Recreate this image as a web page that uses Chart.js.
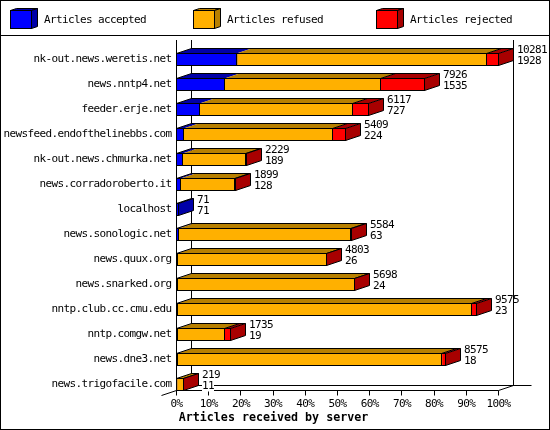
<!DOCTYPE html>
<html>
<head>
<meta charset="utf-8">
<style>
  html, body { margin: 0; padding: 0; background: #fff; }
  canvas { display: block; }
</style>
<script src="https://cdn.jsdelivr.net/npm/chart.js@4"></script>
</head>
<body>
<canvas id="chart" width="550" height="430"></canvas>
<script>
const servers = ["nk-out.news.weretis.net", "news.nntp4.net", "feeder.erje.net", "newsfeed.endofthelinebbs.com",
  "nk-out.news.chmurka.net", "news.corradoroberto.it", "localhost", "news.sonologic.net", "news.quux.org",
  "news.snarked.org", "nntp.club.cc.cmu.edu", "nntp.comgw.net", "news.dne3.net", "news.trigofacile.com"];
const accepted = [1928, 1535, 727, 224, 189, 128, 71, 63, 26, 24, 23, 19, 18, 11];
const refused = [7970, 4973, 4898, 4757, 2030, 1731, 0, 5501, 4762, 5659, 9382, 1506, 8457, 200];
const rejected = [383, 1418, 492, 428, 10, 40, 0, 20, 15, 15, 170, 210, 100, 8];
const totals = [10281, 7926, 6117, 5409, 2229, 1899, 71, 5584, 4803, 5698, 9575, 1735, 8575, 219];
const maxTotal = 10281;
const tickPercents = [0, 10, 20, 30, 40, 50, 60, 70, 80, 90, 100];
const axisTitle = "Articles received by server";

const FRONT = ["#0000ff", "#ffb000", "#ff0000"];
const DARK = ["#0000a8", "#b88000", "#a80000"];
const DX = 15, DY = -5;
const AXIS_Y = 390.5;
const MONO = '"DejaVu Sans Mono", monospace';
const TEXT_SIZE = 11;
const TEXT_SPACING = "-0.62px";

const snap = v => Math.floor(v) + 0.5;

function line(ctx, x1, y1, x2, y2) {
  ctx.beginPath();
  ctx.moveTo(x1, y1);
  ctx.lineTo(x2, y2);
  ctx.stroke();
}

function poly(ctx, pts, fill, stroke) {
  ctx.beginPath();
  pts.forEach((p, i) => i ? ctx.lineTo(p[0], p[1]) : ctx.moveTo(p[0], p[1]));
  ctx.closePath();
  if (fill) { ctx.fillStyle = fill; ctx.fill(); }
  if (stroke) { ctx.strokeStyle = "#000"; ctx.stroke(); }
}

// frame, legend and the back wall, under the bars
const backdrop = {
  id: "backdrop",
  beforeDraw(chart) {
    chart.ctx.letterSpacing = TEXT_SPACING;
  },
  beforeDatasetsDraw(chart) {
    const ctx = chart.ctx, x = chart.scales.x;
    const left = snap(x.left), right = snap(x.right);
    ctx.save();
    ctx.lineWidth = 1;
    ctx.strokeStyle = "#000";
    ctx.strokeRect(0.5, 0.5, 549, 429);
    line(ctx, 0, 35.5, 550, 35.5);

    // legend
    const legendX = [10.5, 193.5, 376.5];
    const textX = [44, 227, 410];
    ctx.font = TEXT_SIZE + "px " + MONO;
    ctx.textBaseline = "middle";
    chart.data.datasets.forEach((ds, i) => {
      const x0 = legendX[i], x1 = x0 + 21;
      poly(ctx, [[x0, 10.5], [x0 + 6, 8.5], [x1 + 6, 8.5], [x1, 10.5]], DARK[i], true);
      poly(ctx, [[x1, 10.5], [x1 + 6, 8.5], [x1 + 6, 26.5], [x1, 28.5]], DARK[i], true);
      ctx.fillStyle = FRONT[i];
      ctx.fillRect(x0, 10.5, 21, 18);
      ctx.strokeRect(x0, 10.5, 21, 18);
      ctx.fillStyle = "#000";
      ctx.fillText(ds.label, textX[i], 20);
    });

    // axes and wall
    ctx.strokeStyle = "#000";
    line(ctx, left, 40, left, AXIS_Y);
    line(ctx, left + DX, 40, left + DX, AXIS_Y + DY);
    line(ctx, right + DX, 40, right + DX, AXIS_Y + DY);
    line(ctx, left, AXIS_Y, right, AXIS_Y);
    line(ctx, left + DX, AXIS_Y + DY, right + DX + 18, AXIS_Y + DY);
    line(ctx, right, AXIS_Y, right + DX, AXIS_Y + DY);
    line(ctx, left, AXIS_Y, left - DX, AXIS_Y - DY);
    x.ticks.forEach((t, i) => {
      const px = snap(x.getPixelForTick(i));
      line(ctx, px, AXIS_Y, px, AXIS_Y + 5);
    });

    ctx.letterSpacing = "0px";
    ctx.font = "bold 11.67px " + MONO;
    ctx.textAlign = "center";
    ctx.fillStyle = "#000";
    ctx.fillText(axisTitle, 273.5, 417.5);
    ctx.restore();
  },
  // 3d faces and outlines, on top of the fronts Chart.js fills
  afterDatasetsDraw(chart) {
    const ctx = chart.ctx;
    ctx.save();
    ctx.lineWidth = 1;
    ctx.strokeStyle = "#000";
    servers.forEach((name, row) => {
      const bars = chart.data.datasets.map((ds, i) => chart.getDatasetMeta(i).data[row]);
      const top = snap(bars[0].y - bars[0].height / 2);
      const bottom = top + 12;
      const start = snap(bars[0].base);
      let end = start;
      let lastSeries = 0;
      bars.forEach((bar, i) => {
        if (chart.data.datasets[i].data[row] <= 0) return;
        const x0 = end, x1 = snap(bar.x);
        poly(ctx, [[x0, top], [x0 + DX, top + DY], [x1 + DX, top + DY], [x1, top]], DARK[i], false);
        if (i === 2) line(ctx, x0, top, x0 + DX, top + DY);
        if (x1 > x0) line(ctx, x1, top, x1, bottom);
        end = x1;
        lastSeries = i;
      });
      line(ctx, start, top, start + DX, top + DY);
      line(ctx, start + DX, top + DY, end + DX, top + DY);
      poly(ctx, [[end, top], [end + DX, top + DY], [end + DX, bottom + DY], [end, bottom]], DARK[lastSeries], true);
      ctx.strokeRect(start, top, end - start, 12);

      // value pair next to the bar end
      const labelX = end + DX + 3.5;
      const mid = (top + bottom) / 2;
      ctx.font = TEXT_SIZE + "px " + MONO;
      ctx.textBaseline = "middle";
      ctx.textAlign = "left";
      const first = String(totals[row]), second = String(accepted[row]);
      ctx.fillStyle = "#fff";
      ctx.fillRect(labelX, mid + 2 - 6, ctx.measureText(second).width, 11);
      ctx.fillStyle = "#000";
      ctx.fillText(first, labelX, mid - 9);
      ctx.fillText(second, labelX, mid + 2);
    });
    ctx.restore();
  }
};

new Chart(document.getElementById("chart"), {
  type: "bar",
  data: {
    labels: servers,
    datasets: [
      { label: "Articles accepted", data: accepted, backgroundColor: FRONT[0] },
      { label: "Articles refused", data: refused, backgroundColor: FRONT[1] },
      { label: "Articles rejected", data: rejected, backgroundColor: FRONT[2] }
    ]
  },
  plugins: [backdrop],
  options: {
    indexAxis: "y",
    responsive: false,
    animation: false,
    devicePixelRatio: 1,
    barThickness: 12,
    borderWidth: 0,
    layout: { padding: { top: 46.8, right: 51.5, left: 0, bottom: 0 } },
    plugins: { legend: { display: false }, tooltip: { enabled: false } },
    scales: {
      x: {
        stacked: true,
        min: 0,
        max: maxTotal,
        border: { display: false },
        grid: { display: false },
        afterFit(s) { s.height = 430 - 396.8; },
        afterBuildTicks(s) { s.ticks = tickPercents.map(p => ({ value: p / 100 * maxTotal, label: p + "%" })); },
        ticks: {
          autoSkip: false,
          maxRotation: 0,
          color: "#000",
          padding: -7,
          font: { family: MONO, size: TEXT_SIZE },
          callback(value, i) { return tickPercents[i] + "%"; }
        }
      },
      y: {
        stacked: true,
        border: { display: false },
        grid: { display: false, tickLength: 0 },
        afterFit(s) { s.width = 176.5; },
        ticks: { color: "#000", padding: 5, autoSkip: false, font: { family: MONO, size: TEXT_SIZE } }
      }
    }
  }
});
</script>
</body>
</html>
